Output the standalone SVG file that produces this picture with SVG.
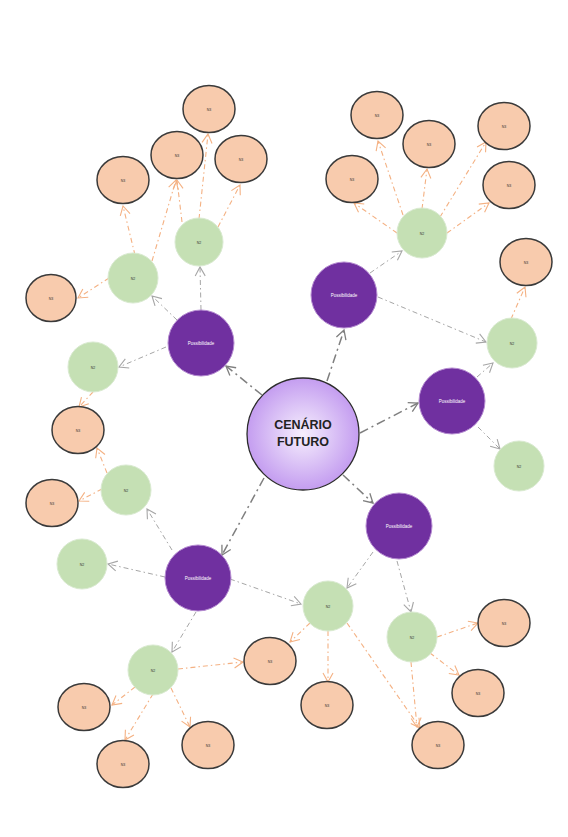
<svg xmlns="http://www.w3.org/2000/svg" width="568" height="837" viewBox="0 0 568 837">
<defs>
<radialGradient id="cg" cx="50%" cy="50%" r="50%">
<stop offset="0" stop-color="#f6effd"/>
<stop offset="1" stop-color="#c49df0"/>
</radialGradient>
<marker id="ad" markerUnits="userSpaceOnUse" markerWidth="12" markerHeight="12" refX="10" refY="6" orient="auto"><path d="M1,1 L10,6 L1,11" fill="none" stroke="#7f7f7f" stroke-width="1.3"/></marker>
<marker id="al" markerUnits="userSpaceOnUse" markerWidth="12" markerHeight="12" refX="10" refY="6" orient="auto"><path d="M1,1 L10,6 L1,11" fill="none" stroke="#a6a6a6" stroke-width="1.1"/></marker>
<marker id="ao" markerUnits="userSpaceOnUse" markerWidth="12" markerHeight="12" refX="10" refY="6" orient="auto"><path d="M1,1 L10,6 L1,11" fill="none" stroke="#f4b183" stroke-width="1.1"/></marker>
</defs>
<style>
.cd{stroke:#7f7f7f;stroke-width:1.5;fill:none;stroke-dasharray:9 4 2 4;marker-end:url(#ad)}
.cl{stroke:#a6a6a6;stroke-width:1;fill:none;stroke-dasharray:5 3 1.5 3;marker-end:url(#al)}
.co{stroke:#f4b183;stroke-width:1.1;fill:none;stroke-dasharray:5 3 1.5 3;marker-end:url(#ao)}
.p circle{fill:#7030a0;stroke:#b48ad0;stroke-width:1}
.p text{fill:#ffffff;font-family:"Liberation Sans",Arial,sans-serif;font-size:4.5px;text-anchor:middle}
.g circle{fill:#c5e0b4;stroke:#d9ead0;stroke-width:1}
.o ellipse{fill:#f8cbad;stroke:#3a3a3a;stroke-width:1.5}
.g text,.o text{fill:#333333;font-family:"Liberation Sans",Arial,sans-serif;font-size:3.5px;text-anchor:middle}
</style>
<rect width="568" height="837" fill="#ffffff"/>
<g id="connectors">
<line class="cd" x1="262" y1="395" x2="226" y2="366"/>
<line class="cd" x1="327" y1="381" x2="344" y2="330"/>
<line class="cd" x1="360" y1="433" x2="418" y2="403"/>
<line class="cd" x1="343" y1="475" x2="373" y2="503"/>
<line class="cd" x1="264" y1="478" x2="222" y2="555"/>
<line class="cl" x1="201" y1="310" x2="200" y2="267"/>
<line class="cl" x1="177" y1="320" x2="152" y2="296"/>
<line class="cl" x1="166" y1="347" x2="119" y2="367"/>
<line class="cl" x1="370" y1="273" x2="402" y2="251"/>
<line class="cl" x1="378" y1="297" x2="486" y2="342"/>
<line class="cl" x1="477" y1="377" x2="493" y2="363"/>
<line class="cl" x1="478" y1="427" x2="500" y2="449"/>
<line class="cl" x1="373" y1="552" x2="347" y2="588"/>
<line class="cl" x1="397" y1="561" x2="411" y2="612"/>
<line class="cl" x1="172" y1="550" x2="147" y2="509"/>
<line class="cl" x1="165" y1="577" x2="108" y2="564"/>
<line class="cl" x1="230" y1="579" x2="301" y2="604"/>
<line class="cl" x1="196" y1="612" x2="172" y2="652"/>
<line class="co" x1="199" y1="219" x2="208" y2="134"/>
<line class="co" x1="182" y1="222" x2="177" y2="180"/>
<line class="co" x1="218" y1="227" x2="240" y2="185"/>
<line class="co" x1="135" y1="255" x2="123" y2="206"/>
<line class="co" x1="152" y1="261" x2="176" y2="180"/>
<line class="co" x1="109" y1="278" x2="78" y2="298"/>
<line class="co" x1="93" y1="392" x2="79" y2="407"/>
<line class="co" x1="107" y1="473" x2="97" y2="448"/>
<line class="co" x1="102" y1="489" x2="79" y2="501"/>
<line class="co" x1="397" y1="233" x2="354" y2="203"/>
<line class="co" x1="403" y1="215" x2="378" y2="141"/>
<line class="co" x1="422" y1="209" x2="427" y2="169"/>
<line class="co" x1="440" y1="217" x2="486" y2="142"/>
<line class="co" x1="447" y1="233" x2="489" y2="203"/>
<line class="co" x1="511" y1="319" x2="525" y2="287"/>
<line class="co" x1="310" y1="623" x2="290" y2="642"/>
<line class="co" x1="328" y1="631" x2="328" y2="682"/>
<line class="co" x1="347" y1="623" x2="420" y2="728"/>
<line class="co" x1="437" y1="637" x2="478" y2="623"/>
<line class="co" x1="430" y1="653" x2="459" y2="675"/>
<line class="co" x1="411" y1="662" x2="417" y2="727"/>
<line class="co" x1="178" y1="669" x2="243" y2="662"/>
<line class="co" x1="135" y1="687" x2="112" y2="705"/>
<line class="co" x1="153" y1="694" x2="125" y2="740"/>
<line class="co" x1="171" y1="688" x2="190" y2="727"/>
</g>
<g id="center">
<circle cx="303" cy="434" r="56" fill="url(#cg)" stroke="#2b2b2b" stroke-width="1.3"/>
<text x="303" y="429" font-family="'Liberation Sans',Arial,sans-serif" font-size="12.5" font-weight="bold" fill="#222" text-anchor="middle">CENÁRIO</text>
<text x="303" y="446" font-family="'Liberation Sans',Arial,sans-serif" font-size="12.5" font-weight="bold" fill="#222" text-anchor="middle">FUTURO</text>
</g>
<g id="p1" class="p"><circle cx="201" cy="343" r="33"/><text x="201" y="345">Possibilidade</text></g>
<g id="p2" class="p"><circle cx="344" cy="295" r="33"/><text x="344" y="297">Possibilidade</text></g>
<g id="p3" class="p"><circle cx="452" cy="401" r="33"/><text x="452" y="403">Possibilidade</text></g>
<g id="p4" class="p"><circle cx="399" cy="526" r="33"/><text x="399" y="528">Possibilidade</text></g>
<g id="p5" class="p"><circle cx="198" cy="578" r="33"/><text x="198" y="580">Possibilidade</text></g>
<g id="g1" class="g"><circle cx="199" cy="242" r="24"/><text x="199" y="243.5">N2</text></g>
<g id="g2" class="g"><circle cx="133" cy="278" r="25"/><text x="133" y="279.5">N2</text></g>
<g id="g3" class="g"><circle cx="93" cy="367" r="25"/><text x="93" y="368.5">N2</text></g>
<g id="g4" class="g"><circle cx="422" cy="233" r="25"/><text x="422" y="234.5">N2</text></g>
<g id="g5" class="g"><circle cx="512" cy="343" r="25"/><text x="512" y="344.5">N2</text></g>
<g id="g6" class="g"><circle cx="519" cy="466" r="25"/><text x="519" y="467.5">N2</text></g>
<g id="g7" class="g"><circle cx="126" cy="490" r="25"/><text x="126" y="491.5">N2</text></g>
<g id="g8" class="g"><circle cx="82" cy="564" r="25"/><text x="82" y="565.5">N2</text></g>
<g id="g9" class="g"><circle cx="328" cy="606" r="25"/><text x="328" y="607.5">N2</text></g>
<g id="g10" class="g"><circle cx="412" cy="637" r="25"/><text x="412" y="638.5">N2</text></g>
<g id="g11" class="g"><circle cx="153" cy="670" r="25"/><text x="153" y="671.5">N2</text></g>
<g id="o1" class="o"><ellipse cx="209" cy="109" rx="26" ry="23.5"/><text x="209" y="110.5">N3</text></g>
<g id="o2" class="o"><ellipse cx="177" cy="155" rx="26" ry="23.5"/><text x="177" y="156.5">N3</text></g>
<g id="o3" class="o"><ellipse cx="241" cy="159" rx="26" ry="23.5"/><text x="241" y="160.5">N3</text></g>
<g id="o4" class="o"><ellipse cx="123" cy="180" rx="26" ry="23.5"/><text x="123" y="181.5">N3</text></g>
<g id="o5" class="o"><ellipse cx="51" cy="298" rx="25" ry="23.5"/><text x="51" y="299.5">N3</text></g>
<g id="o6" class="o"><ellipse cx="377" cy="115" rx="26" ry="23.5"/><text x="377" y="116.5">N3</text></g>
<g id="o7" class="o"><ellipse cx="429" cy="144" rx="26" ry="23.5"/><text x="429" y="145.5">N3</text></g>
<g id="o8" class="o"><ellipse cx="504" cy="126" rx="26" ry="23.5"/><text x="504" y="127.5">N3</text></g>
<g id="o9" class="o"><ellipse cx="352" cy="179" rx="26" ry="23.5"/><text x="352" y="180.5">N3</text></g>
<g id="o10" class="o"><ellipse cx="509" cy="185" rx="26" ry="23.5"/><text x="509" y="186.5">N3</text></g>
<g id="o11" class="o"><ellipse cx="526" cy="262" rx="26" ry="23.5"/><text x="526" y="263.5">N3</text></g>
<g id="o12" class="o"><ellipse cx="78" cy="430" rx="26" ry="23.5"/><text x="78" y="431.5">N3</text></g>
<g id="o13" class="o"><ellipse cx="52" cy="503" rx="26" ry="23.5"/><text x="52" y="504.5">N3</text></g>
<g id="o14" class="o"><ellipse cx="270" cy="661" rx="26" ry="23.5"/><text x="270" y="662.5">N3</text></g>
<g id="o15" class="o"><ellipse cx="327" cy="705" rx="26" ry="23.5"/><text x="327" y="706.5">N3</text></g>
<g id="o16" class="o"><ellipse cx="84" cy="707" rx="26" ry="23.5"/><text x="84" y="708.5">N3</text></g>
<g id="o17" class="o"><ellipse cx="123" cy="764" rx="26" ry="23.5"/><text x="123" y="765.5">N3</text></g>
<g id="o18" class="o"><ellipse cx="208" cy="745" rx="26" ry="23.5"/><text x="208" y="746.5">N3</text></g>
<g id="o19" class="o"><ellipse cx="504" cy="623" rx="26" ry="23.5"/><text x="504" y="624.5">N3</text></g>
<g id="o20" class="o"><ellipse cx="478" cy="693" rx="26" ry="23.5"/><text x="478" y="694.5">N3</text></g>
<g id="o21" class="o"><ellipse cx="438" cy="745" rx="26" ry="23.5"/><text x="438" y="746.5">N3</text></g>
</svg>
